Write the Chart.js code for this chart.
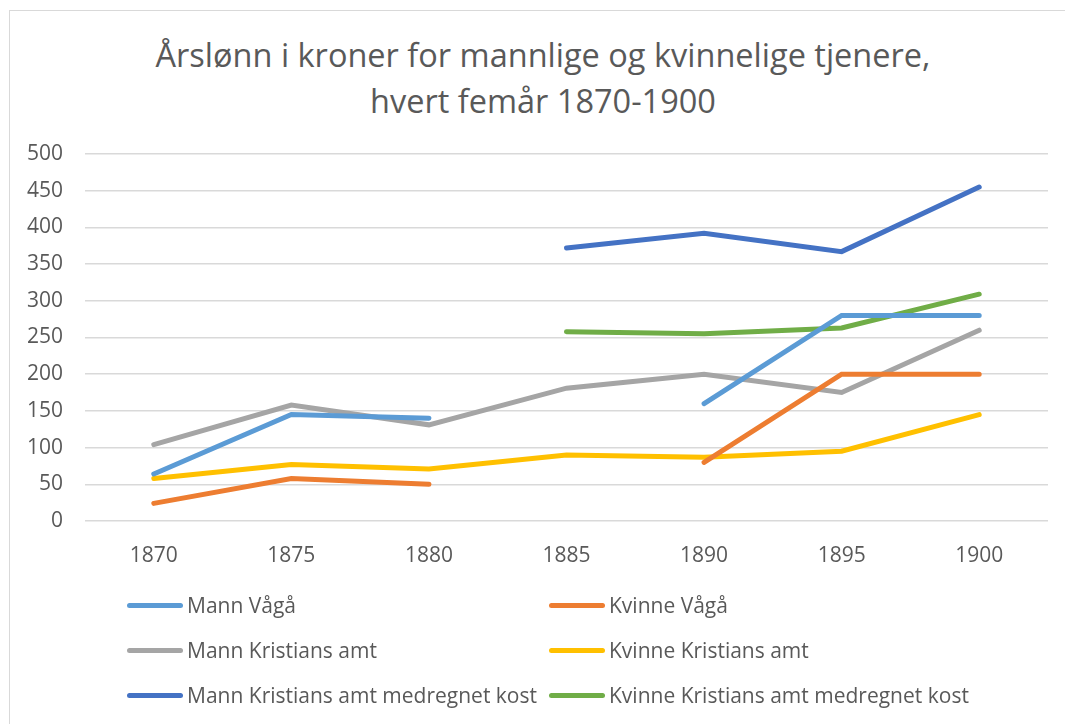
<!DOCTYPE html>
<html>
<head>
<meta charset="utf-8">
<script src="https://cdn.jsdelivr.net/npm/chart.js@4/dist/chart.umd.min.js"></script>
<style>
  html, body { margin: 0; padding: 0; background: #fff; }
  #wrap { position: relative; width: 1065px; height: 724px; overflow: hidden; font-family: "Open Sans", sans-serif; color: #595959; }
  #frame { position: absolute; left: 9px; top: 10px; width: 1100px; height: 800px; border: 1px solid #d9d9d9; box-sizing: border-box; }
  #title { position: absolute; left: 0; top: 32px; width: 1086px; text-align: center; font-size: 32.5px; font-weight: 400; line-height: 46px; }
  canvas { position: absolute; left: 0; top: 0; }
  #legend { position: absolute; left: 0; top: 0; }
  .item { position: absolute; height: 24px; display: flex; align-items: center; font-size: 21px; white-space: nowrap; }
  .swatch { width: 56px; height: 5px; border-radius: 3px; margin-right: 4px; }
</style>
</head>
<body>
<div id="wrap">
  <div id="frame"></div>
  <div id="title">Årslønn i kroner for mannlige og kvinnelige tjenere,<br>hvert femår 1870-1900</div>
  <canvas id="chart" width="1065" height="724"></canvas>
  <div id="legend"></div>
</div>
<script>
// data
const years = ['1870', '1875', '1880', '1885', '1890', '1895', '1900'];
const mannVaga = [64, 145, 140, null, 160, 280, 280];
const kvinneVaga = [24, 58, 50, null, 80, 200, 200];
const mannKristians = [104, 158, 131, 181, 200, 175, 260];
const kvinneKristians = [58, 77, 71, 90, 87, 95, 145];
const mannKost = [null, null, null, 372, 392, 367, 455];
const kvinneKost = [null, null, null, 258, 255, 263, 309];

const seriesNames = [
    'Mann Vågå', 'Kvinne Vågå',
    'Mann Kristians amt', 'Kvinne Kristians amt',
    'Mann Kristians amt medregnet kost', 'Kvinne Kristians amt medregnet kost'
];
const seriesData = [mannVaga, kvinneVaga, mannKristians, kvinneKristians, mannKost, kvinneKost];
const colors = ['#5B9BD5', '#ED7D31', '#A5A5A5', '#FFC000', '#4472C4', '#70AD47'];

const textColor = '#595959';
const font = { family: '"Open Sans", sans-serif', size: 21 };

const ctx = document.getElementById('chart').getContext('2d');
new Chart(ctx, {
    type: 'line',
    data: {
        labels: years,
        datasets: seriesNames.map((name, i) => ({
            label: name,
            data: seriesData[i],
            borderColor: colors[i],
            backgroundColor: colors[i],
            borderWidth: 5,
            borderCapStyle: 'round',
            borderJoinStyle: 'miter',
            pointRadius: 0,
            tension: 0,
            spanGaps: false
        }))
    },
    options: {
        responsive: false,
        animation: false,
        layout: { padding: { left: 0, right: 17, top: 154, bottom: 158 } },
        plugins: {
            legend: { display: false },
            tooltip: { enabled: false }
        },
        scales: {
            x: {
                offset: true,
                grid: { display: false },
                border: { display: false },
                ticks: { color: textColor, font: font, padding: 14 },
                afterFit: s => { s.height = 45; }
            },
            y: {
                min: 0,
                max: 500,
                ticks: { stepSize: 50, color: textColor, font: font, padding: 22 },
                grid: { color: '#d9d9d9', lineWidth: 1.5, drawTicks: false },
                border: { display: false },
                afterFit: s => { s.width = 85; }
            }
        }
    }
});

// legend, two columns
const legend = document.getElementById('legend');
const colX = [127, 549];
const rowY = [593, 638, 683];
seriesNames.forEach((name, i) => {
    const item = document.createElement('div');
    item.className = 'item';
    item.style.left = colX[i % 2] + 'px';
    item.style.top = rowY[Math.floor(i / 2)] + 'px';
    item.innerHTML = `<div class="swatch" style="background:${colors[i]}"></div><span>${name}</span>`;
    legend.appendChild(item);
});
</script>
</body>
</html>
